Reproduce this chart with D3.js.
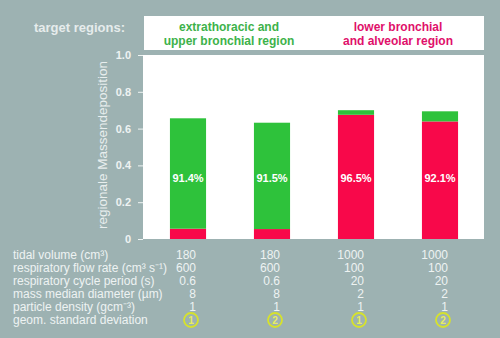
<!DOCTYPE html>
<html><head><meta charset="utf-8">
<script src="https://cdn.jsdelivr.net/npm/d3@7"></script>
<style>
body{margin:0;background:#9db2b2;}
svg{display:block;font-family:"Liberation Sans",Arial,sans-serif;}
</style></head><body>
<svg id="c" width="500" height="338"></svg>
<script>
const categories = ["1","2","3","4"];
const lowerValues = [0.056, 0.054, 0.675, 0.639];   // lower bronchial & alveolar (red)
const upperValues = [0.600, 0.578, 0.025, 0.055];   // extrathoracic & upper bronchial (green)
const barLabels = ["91.4%","91.5%","96.5%","92.1%"];
const yTicks = [0,0.2,0.4,0.6,0.8,1.0];
const rowLabels = ["tidal volume (cm³)","respiratory flow rate (cm³ s⁻¹)","respiratory cycle period (s)","mass median diameter (µm)","particle density (gcm⁻³)","geom. standard deviation"];
const tidalVolume = ["180","180","1000","1000"];
const flowRate = ["600","600","100","100"];
const cyclePeriod = ["0.6","0.6","20","20"];
const massDiameter = ["8","8","2","2"];
const density = ["1","1","1","1"];
const gsd = ["1","2","1","2"];

const svg = d3.select("#c");
const x = d3.scaleBand().domain(categories).range([146,482]).paddingInner(0.57).paddingOuter(0.285);
const y = d3.scaleLinear().domain([0,1]).range([239,55]);
const light = "#eef3f2";

// header
svg.append("text").attr("x",125).attr("y",32).attr("text-anchor","end")
  .attr("fill","#e6ecec").attr("font-size",13).attr("font-weight","bold").text("target regions:");
svg.append("rect").attr("x",144).attr("y",16).attr("width",340).attr("height",34).attr("fill","#fff");
const hg = svg.append("text").attr("text-anchor","middle").attr("font-size",12).attr("font-weight","bold").attr("fill","#3db24a");
hg.append("tspan").attr("x",229).attr("y",31).text("extrathoracic and");
hg.append("tspan").attr("x",229).attr("y",45).text("upper bronchial region");
const hr = svg.append("text").attr("text-anchor","middle").attr("font-size",12).attr("font-weight","bold").attr("fill","#e0106a");
hr.append("tspan").attr("x",398).attr("y",31).text("lower bronchial");
hr.append("tspan").attr("x",398).attr("y",45).text("and alveolar region");

// plot area
svg.append("rect").attr("x",143).attr("y",55).attr("width",341).attr("height",184).attr("fill","#fff");

const yAxis = svg.append("g").attr("transform","translate(143,0)")
  .call(d3.axisLeft(y).tickValues(yTicks).tickSize(5).tickPadding(7).tickFormat(d=> d===0?"0":d3.format(".1f")(d)));
yAxis.select(".domain").remove();
yAxis.selectAll("line").attr("stroke",light);
yAxis.selectAll("text").attr("fill",light).attr("font-size",11).attr("font-weight","bold").attr("font-family","Liberation Sans, Arial, sans-serif");

svg.append("text").attr("transform","translate(107,145) rotate(-90)").attr("text-anchor","middle")
  .attr("fill","#e8eeee").attr("font-size",13.5).text("regionale Massendeposition");

// bars
const g = svg.append("g");
g.selectAll(".red").data(categories).join("rect")
  .attr("x",d=>x(d)).attr("width",x.bandwidth())
  .attr("y",(d,i)=>y(lowerValues[i])).attr("height",(d,i)=>y(0)-y(lowerValues[i]))
  .attr("fill","#f8084a");
g.selectAll(".green").data(categories).join("rect")
  .attr("x",d=>x(d)).attr("width",x.bandwidth())
  .attr("y",(d,i)=>y(lowerValues[i]+upperValues[i])).attr("height",(d,i)=>y(lowerValues[i])-y(lowerValues[i]+upperValues[i]))
  .attr("fill","#2ec23b");
g.selectAll(".lbl").data(categories).join("text")
  .attr("x",d=>x(d)+x.bandwidth()/2).attr("y",182).attr("text-anchor","middle")
  .attr("fill","#fff").attr("font-size",11).attr("font-weight","bold").text((d,i)=>barLabels[i]);

// table
const rows = [tidalVolume,flowRate,cyclePeriod,massDiameter,density];
const rowY = d3.scaleLinear().domain([0,1]).range([259,272]);
rowLabels.forEach((t,r)=>{
  svg.append("text").attr("x",13).attr("y",rowY(r)).attr("fill",light).attr("font-size",12).text(t);
});
rows.forEach((vals,r)=>{
  svg.selectAll(null).data(categories).join("text")
    .attr("x",d=>x(d)+x.bandwidth()/2+8).attr("y",rowY(r)).attr("text-anchor","end")
    .attr("fill",light).attr("font-size",12).text((d,i)=>vals[i]);
});
const cg = svg.selectAll(null).data(categories).join("g")
  .attr("transform",d=>`translate(${x(d)+x.bandwidth()/2+3},${rowY(5)-4})`);
cg.append("circle").attr("r",7).attr("fill","none").attr("stroke","#d6e22c").attr("stroke-width",1.8);
cg.append("text").attr("y",4).attr("text-anchor","middle").attr("fill","#e8ee60").attr("font-size",10).attr("font-weight","bold").text((d,i)=>gsd[i]);
</script></body></html>
